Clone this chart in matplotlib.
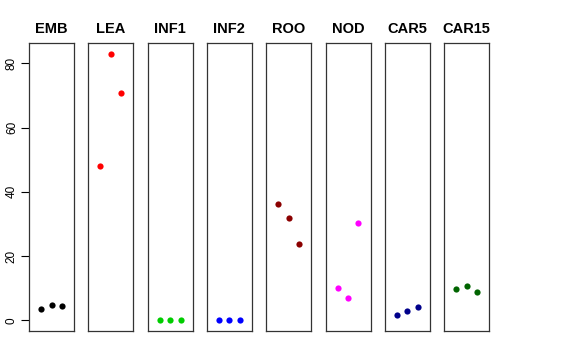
import matplotlib
matplotlib.use("Agg")
import matplotlib.pyplot as plt

# ── Data ──────────────────────────────────────────────────────
TISSUES = ["EMB", "LEA", "INF1", "INF2", "ROO", "NOD", "CAR5", "CAR15"]
COLORS  = ["#000000", "#FF0000", "#00CD00", "#0000FF",
           "#8B0000", "#FF00FF", "#00008B", "#006400"]
REPS    = [1, 2, 3]

EMB   = [3.5, 4.7, 4.4]
LEA   = [48.0, 83.0, 70.7]
INF1  = [0.1, 0.1, 0.1]
INF2  = [0.1, 0.1, 0.1]
ROO   = [36.3, 31.8, 23.7]
NOD   = [10.0, 7.0, 30.3]
CAR5  = [1.8, 3.0, 4.0]
CAR15 = [9.7, 10.7, 8.7]
VALUES = [EMB, LEA, INF1, INF2, ROO, NOD, CAR5, CAR15]

Y_TICKS = [0, 20, 40, 60, 80]

plt.rcParams["font.family"] = ["Liberation Sans", "DejaVu Sans"]

W, H = 576, 360
fig = plt.figure(figsize=(W / 100, H / 100), dpi=100)

ymax = max(max(v) for v in VALUES)
ypad = ymax * 0.04

# ── One narrow panel per tissue ───────────────────────────────
left0, step, pw = 29, 59.3, 45
bottom, ph = 29, 288
for i, (name, vals, col) in enumerate(zip(TISSUES, VALUES, COLORS)):
    ax = fig.add_axes([(left0 + i * step) / W, bottom / H, pw / W, ph / H])
    ax.scatter(REPS, vals, s=20, color=col, linewidths=0, zorder=3)
    ax.set_xlim(-0.16, 4.16)
    ax.set_ylim(-ypad, ymax + ypad)
    ax.set_xticks([])
    ax.set_title(name, fontsize=10.5, fontweight="bold", pad=7)
    for sp in ax.spines.values():
        sp.set_linewidth(0.9)
        sp.set_color("#333333")
    if i == 0:
        ax.set_yticks(Y_TICKS)
        ax.set_yticklabels([str(t) for t in Y_TICKS], rotation=90,
                           va="center", fontsize=8.5)
        ax.tick_params(axis="y", length=6, width=0.8, pad=2)
    else:
        ax.set_yticks([])

fig.savefig("out.png", dpi=100)
